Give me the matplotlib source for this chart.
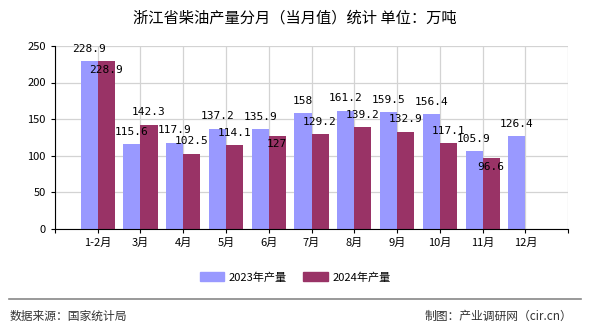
import numpy as np
import matplotlib.pyplot as plt
from matplotlib.lines import Line2D

plt.rcParams['font.family'] = ['Noto Sans CJK SC', 'DejaVu Sans']

# データ
months = ['1-2月', '3月', '4月', '5月', '6月', '7月', '8月', '9月', '10月', '11月', '12月']
prod_2023 = [228.9, 115.6, 117.9, 137.2, 135.9, 158, 161.2, 159.5, 156.4, 105.9, 126.4]
prod_2024 = [228.9, 142.3, 102.5, 114.1, 127, 129.2, 139.2, 132.9, 117.1, 96.6, None]
label_2023 = ['228.9', '115.6', '117.9', '137.2', '135.9', '158', '161.2', '159.5', '156.4', '105.9', '126.4']
label_2024 = ['228.9', '142.3', '102.5', '114.1', '127', '129.2', '139.2', '132.9', '117.1', '96.6', '']

c23 = '#9999FF'
c24 = '#993366'

fig = plt.figure(figsize=(5.9, 3.3), dpi=100)
ax = fig.add_axes([0.093, 0.306, 0.870, 0.555])

x = np.arange(len(months))
w = 0.4
v24 = [np.nan if v is None else v for v in prod_2024]
ax.bar(x - w / 2, prod_2023, w, color=c23, zorder=2)
ax.bar(x + w / 2, v24, w, color=c24, zorder=2)

lab_font = dict(family=['DejaVu Sans Mono'], fontsize=8, ha='center', va='center')
for i in range(len(months)):
    ax.annotate(label_2023[i], (x[i] - w / 2, prod_2023[i]), xytext=(0, 9),
                textcoords='offset points', **lab_font)
    if prod_2024[i] is None:
        continue
    # 2023のラベルと重なりそうならバーの中に入れる
    dy = -6 if abs(prod_2023[i] - prod_2024[i]) < 12 else 9
    ax.annotate(label_2024[i], (x[i] + w / 2, prod_2024[i]), xytext=(0, dy),
                textcoords='offset points', **lab_font)

ax.set_xlim(-1, len(months))
ax.set_ylim(0, 250)
ax.set_yticks(np.arange(0, 251, 50))
ax.set_xticks(np.arange(-1, len(months) + 1))
ax.set_xticklabels([''] + months + [''])
ax.tick_params(axis='both', labelsize=8, length=3, color='black')
ax.grid(True, color='#d3d3d3', linewidth=0.9, zorder=0)
ax.set_axisbelow(True)
for s in ['top', 'right']:
    ax.spines[s].set_visible(False)
ax.spines['left'].set_color('black')
ax.spines['bottom'].set_color('black')

fig.text(0.5, 0.945, '浙江省柴油产量分月（当月值）统计 单位：万吨', ha='center', va='center', fontsize=11)

handles = [plt.Rectangle((0, 0), 1, 1, color=c23), plt.Rectangle((0, 0), 1, 1, color=c24)]
fig.legend(handles, ['2023年产量', '2024年产量'], loc='center', bbox_to_anchor=(0.5, 0.16),
           ncol=2, frameon=False, fontsize=8, handlelength=2.2, handleheight=0.8,
           handletextpad=0.4, columnspacing=1.5)

fig.add_artist(Line2D([0.015, 0.985], [0.095, 0.095], color='#888888', linewidth=1.2))
fig.text(0.017, 0.042, '数据来源：国家统计局', ha='left', va='center', fontsize=8.5, color='#333333')
fig.text(0.97, 0.042, '制图：产业调研网（cir.cn）', ha='right', va='center', fontsize=8.5, color='#333333')

fig.savefig('out.png', dpi=100)
